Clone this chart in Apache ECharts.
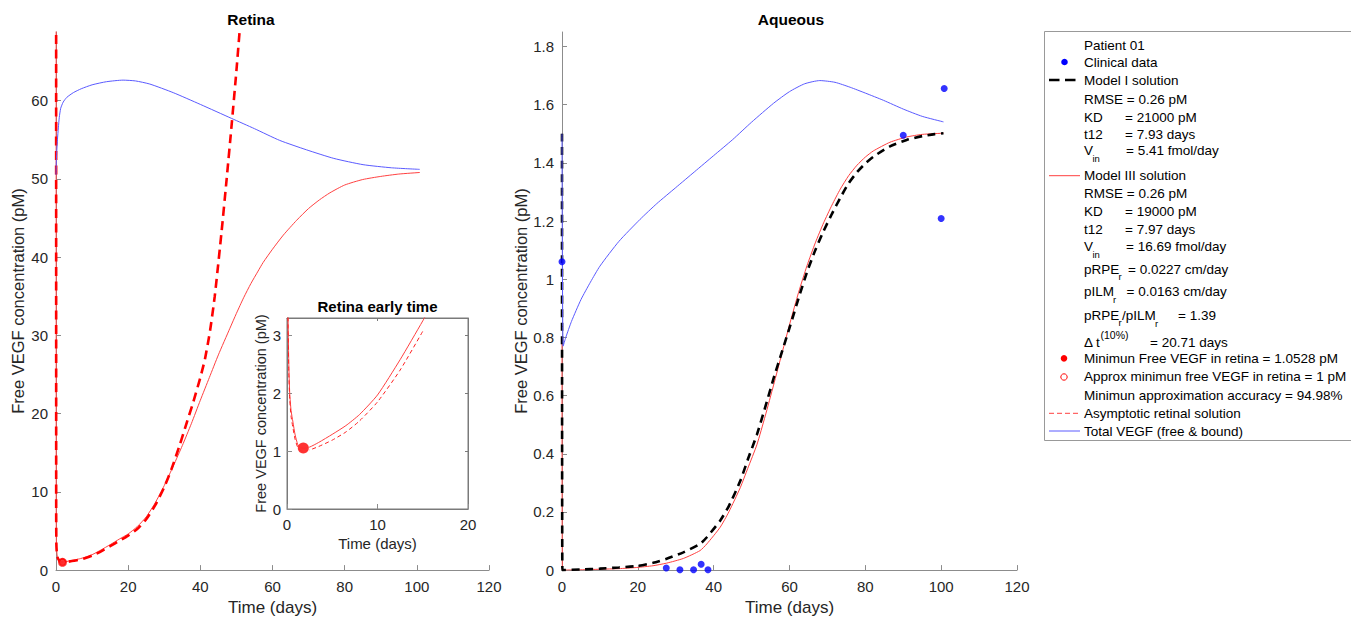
<!DOCTYPE html>
<html><head><meta charset="utf-8">
<script src="https://cdn.jsdelivr.net/npm/echarts@6/dist/echarts.min.js"></script>
<style>html,body{margin:0;padding:0;background:#fff}#c{width:1351px;height:621px}</style>
</head><body><div id="c"></div>
<script>
// ---------- DATA ----------
const xTicks = [0, 20, 40, 60, 80, 100, 120];
const insetXTicks = [0, 10, 20];
const retinaYTicks = [0, 10, 20, 30, 40, 50, 60];
const aqueousYTicks = [0, 0.2, 0.4, 0.6, 0.8, 1, 1.2, 1.4, 1.6, 1.8];
const insetYTicks = [0, 1, 2, 3];

// Retina: Model III free VEGF (thin red)
const retinaModel3T = [0, 0.05, 0.1, 0.2, 0.3, 0.45, 0.66, 0.9, 1.2, 1.5, 1.8, 2.5, 3.5, 5, 6.5, 8, 10, 12.5, 15, 17.5, 20, 22.5, 25, 27.5, 30, 32.5, 35, 37.5, 40, 42.5, 45, 48.2, 50, 52, 54, 56, 57.4, 60, 63, 66.7, 70, 73, 75.9, 80, 85, 90, 95, 100.8];
const retinaModel3 = [400, 8, 3.6, 2.5, 2.0, 1.7, 1.5, 1.28, 1.11, 1.06, 1.05, 1.07, 1.15, 1.29, 1.44, 1.63, 1.97, 2.58, 3.25, 3.95, 4.62, 5.55, 6.8, 8.6, 10.8, 13.3, 15.9, 18.7, 21.7, 24.6, 27.5, 30.9, 32.8, 34.8, 36.6, 38.2, 39.3, 41.0, 42.8, 44.7, 46.2, 47.3, 48.2, 49.2, 49.9, 50.3, 50.6, 50.8];
// Retina: asymptotic retinal solution (red dashed)
const retinaAsymT = [0, 0.05, 0.1, 0.2, 0.3, 0.45, 0.66, 0.9, 1.2, 1.5, 1.8, 2.5, 3.5, 5, 6.5, 8, 10, 12.5, 15, 17.5, 20, 22.5, 25, 27.5, 30, 32, 34.3, 36, 38, 40, 41.3, 42.7, 44, 45.9, 47.3, 48.7, 50, 51];
const retinaAsym = [400, 7.5, 3.4, 2.35, 1.9, 1.6, 1.4, 1.2, 1.06, 1.01, 1.0, 1.02, 1.08, 1.19, 1.33, 1.52, 1.85, 2.4, 3.07, 3.72, 4.4, 5.25, 6.5, 8.3, 10.6, 12.9, 16.0, 18.5, 21.4, 24.6, 27.0, 30.6, 35.0, 43.3, 50, 57, 63.8, 69.5];
// Retina: total VEGF (blue)
const retinaTotalT = [0, 0.1, 0.25, 0.4, 0.65, 0.9, 1.3, 2, 3, 4.8, 7, 10, 14, 18.6, 22, 26, 32.5, 40, 48.7, 55, 62, 69.4, 77, 85.1, 93, 100.8];
const retinaTotal = [50.5, 52.3, 53.8, 55, 56.5, 57.8, 59, 59.8, 60.4, 61, 61.5, 62, 62.4, 62.6, 62.5, 62.1, 61, 59.5, 57.7, 56.4, 54.9, 53.7, 52.6, 51.8, 51.4, 51.2];
const minFreeVEGF = [1.8, 1.0528];
const approxMinFreeVEGF = [1.8, 1.0];
const insetSolidEnd = 17.5, insetDashEnd = 15;

// Aqueous
const aqueousModel1T = [0, 0.1, 5, 10, 15, 19.7, 24, 27.6, 32, 36.4, 38.2, 41.7, 44, 47, 49, 51.4, 53.6, 55.8, 58, 60.2, 62.4, 64.6, 66.8, 69, 71.2, 73.4, 75.6, 77.8, 80, 82.1, 86.5, 90.9, 95, 98.3, 100.6];
const aqueousModel1 = [1.5, 0, 0.002, 0.005, 0.009, 0.014, 0.025, 0.039, 0.061, 0.09, 0.113, 0.17, 0.22, 0.306, 0.38, 0.466, 0.56, 0.659, 0.75, 0.841, 0.935, 1.024, 1.1, 1.166, 1.225, 1.28, 1.33, 1.368, 1.398, 1.421, 1.457, 1.479, 1.492, 1.499, 1.502];
const aqueousModel3T = [0, 0.1, 5, 10, 15, 19.7, 24, 27.6, 32, 36.4, 38.2, 41.7, 44, 47, 49, 51.4, 53.6, 55.8, 58, 60.2, 62.4, 64.6, 66.8, 69, 71.2, 73.4, 75.6, 77.8, 80, 82.1, 86.5, 90.9, 95, 100.6];
const aqueousModel3 = [0.78, 0, 0.001, 0.003, 0.005, 0.009, 0.015, 0.024, 0.04, 0.067, 0.09, 0.147, 0.2, 0.283, 0.35, 0.431, 0.53, 0.636, 0.745, 0.853, 0.955, 1.046, 1.125, 1.194, 1.255, 1.31, 1.356, 1.392, 1.42, 1.441, 1.471, 1.489, 1.498, 1.502];
const aqueousTotalT = [0, 0.3, 1, 2.5, 5, 7.5, 10, 15, 20.6, 25, 30, 35, 40, 45, 50, 55.8, 60, 64, 68, 72, 76, 80, 84.8, 90, 95, 100.6];
const aqueousTotal = [1.5, 0.77, 0.8, 0.855, 0.93, 0.99, 1.045, 1.13, 1.206, 1.26, 1.315, 1.37, 1.425, 1.48, 1.54, 1.605, 1.645, 1.672, 1.683, 1.677, 1.66, 1.64, 1.615, 1.585, 1.56, 1.541];
const clinicalT = [0, 27.5, 31.1, 34.7, 36.7, 38.5, 90, 100, 100.8];
const clinicalVEGF = [1.06, 0.007, 0.001, 0.001, 0.02, 0.001, 1.495, 1.209, 1.656];

// ---------- BUILD ----------
const zip = (t, v) => t.map((x, i) => [x, v[i]]);
const upTo = (t, v, end) => zip(t, v).filter(p => p[0] <= end);
const FONT = '"Liberation Sans", Arial, Helvetica, sans-serif';
const AX = '#8c8c8c', TXT = '#262626';
const RED = '#ff4040', BLUE = '#5a5aff';

function xAx(grid, min, max, interval, ticks, opts) {
  return Object.assign({
    type: 'value', gridIndex: grid, min, max, interval,
    axisLine: {show: true, onZero: false, lineStyle: {color: AX, width: 1}},
    axisTick: {show: true, inside: true, length: 5, lineStyle: {color: AX}, customValues: ticks},
    axisLabel: {color: TXT, fontSize: 15, fontFamily: FONT, margin: 9, customValues: ticks},
    splitLine: {show: false},
    nameLocation: 'middle', nameTextStyle: {color: TXT, fontSize: 17, fontFamily: FONT}
  }, opts || {});
}
function yAx(grid, min, max, ticks, opts) {
  return Object.assign({
    type: 'value', gridIndex: grid, min, max,
    axisLine: {show: true, onZero: false, lineStyle: {color: AX, width: 1}},
    axisTick: {show: true, inside: true, length: 5, lineStyle: {color: AX}, customValues: ticks},
    axisLabel: {color: TXT, fontSize: 15, fontFamily: FONT, margin: 8, customValues: ticks, showMaxLabel: true},
    splitLine: {show: false},
    nameLocation: 'middle', nameRotate: 90, nameTextStyle: {color: TXT, fontSize: 16.5, fontFamily: FONT}
  }, opts || {});
}

function txt(x, y, s, size, extra) {
  return Object.assign({type: 'text', x: x, y: y, silent: true, style: {
    text: s, fill: '#000', fontSize: size || 13.5, fontFamily: FONT,
    align: 'left', verticalAlign: 'middle', textAlign: 'left', textVerticalAlign: 'middle'}}, extra || {});
}
function ctxt(x, y, s, size) {
  return {type: 'text', x: x, y: y, silent: true, style: {
    text: s, fill: '#000', fontSize: size, fontWeight: 'bold', fontFamily: FONT,
    align: 'center', verticalAlign: 'middle', textAlign: 'center', textVerticalAlign: 'middle'}};
}
function hline(x1, x2, y, color, width, dash) {
  return {type: 'line', silent: true, shape: {x1, y1: y, x2, y2: y}, style: {stroke: color, lineWidth: width, lineDash: dash || null}};
}
const L = 1084, S = 9.5;
const graphics = [
  ctxt(251, 19, 'Retina', 15.5),
  ctxt(791, 19, 'Aqueous', 15.5),
  ctxt(377.5, 306, 'Retina early time', 15),
  {type: 'rect', silent: true, shape: {x: 1044.5, y: 31.5, width: 330, height: 409}, style: {fill: '#fff', stroke: '#999', lineWidth: 1}},
  txt(L, 45, 'Patient 01'),
  {type: 'circle', silent: true, shape: {cx: 1064.5, cy: 62, r: 3.3}, style: {fill: '#0000ff'}},
  txt(L, 62, 'Clinical data'),
  hline(1049, 1076, 80, '#000', 2.5, [10.5, 5.5]),
  txt(L, 80, 'Model I solution'),
  txt(L, 99, 'RMSE = 0.26 pM'),
  txt(L, 117.3, 'KD'), txt(1125, 117.3, '= 21000 pM'),
  txt(L, 134.3, 't12'), txt(1125, 134.3, '= 7.93 days'),
  txt(L, 150.5, 'V'), txt(1092.5, 158.3, 'in', S), txt(1126, 150.5, '= 5.41 fmol/day'),
  hline(1049, 1080, 175.7, RED, 1),
  txt(L, 175.7, 'Model III solution'),
  txt(L, 193.3, 'RMSE = 0.26 pM'),
  txt(L, 211, 'KD'), txt(1125, 211, '= 19000 pM'),
  txt(L, 229.3, 't12'), txt(1125, 229.3, '= 7.97 days'),
  txt(L, 246.7, 'V'), txt(1092.5, 254.5, 'in', S), txt(1126, 246.7, '= 16.69 fmol/day'),
  txt(L, 269.3, 'pRPE'), txt(1118.5, 276.5, 'r', S), txt(1128, 269.3, '= 0.0227 cm/day'),
  txt(L, 291.7, 'pILM'), txt(1113, 299, 'r', S), txt(1126.5, 291.7, '= 0.0163 cm/day'),
  txt(L, 315, 'pRPE'), txt(1118.5, 322.3, 'r', S), txt(1122, 315, '/pILM'), txt(1155, 323, 'r', S), txt(1178, 315, '= 1.39'),
  txt(L, 342, '\u0394 t'), txt(1100.5, 335, '(10%)', 10.5), txt(1150, 342, '= 20.71 days'),
  {type: 'circle', silent: true, shape: {cx: 1064, cy: 358.3, r: 3.3}, style: {fill: '#ff0000'}},
  txt(L, 358.3, 'Minimun Free VEGF in retina = 1.0528 pM'),
  {type: 'circle', silent: true, shape: {cx: 1064, cy: 377, r: 3.2}, style: {fill: 'none', stroke: '#ff0000', lineWidth: 1}},
  txt(L, 376.7, 'Approx minimun free VEGF in retina = 1 pM'),
  txt(L, 395.7, 'Minimun approximation accuracy = 94.98%'),
  hline(1049, 1080, 413.3, RED, 1, [5, 3]),
  txt(L, 413.3, 'Asymptotic retinal solution'),
  hline(1049, 1080, 431, BLUE, 1),
  txt(L, 431, 'Total VEGF (free & bound)')
];

const lineBase = {type: 'line', showSymbol: false, symbol: 'none', smooth: 0.2, silent: true, animation: false, clip: true};
const mk = (o) => Object.assign({}, lineBase, o);

const option = {
  animation: false,
  backgroundColor: '#fff',
  grid: [
    {left: 56, top: 32, width: 433, height: 541},
    {left: 562, top: 32, width: 455, height: 541},
    {left: 287, top: 318, width: 181, height: 191, show: true, backgroundColor: '#fff', borderColor: '#7a7a7a', borderWidth: 1, z: 5}
  ],
  xAxis: [
    xAx(0, 0, 120, 20, xTicks, {name: 'Time (days)', nameGap: 27}),
    xAx(1, 0, 120, 20, xTicks, {name: 'Time (days)', nameGap: 27}),
    xAx(2, 0, 20, 10, insetXTicks, {name: 'Time (days)', nameGap: 27, z: 6,
      axisLine: {show: true, onZero: false, lineStyle: {color: '#7a7a7a'}},
      axisLabel: {color: TXT, fontSize: 15, fontFamily: FONT, margin: 8, customValues: insetXTicks},
      nameTextStyle: {color: TXT, fontSize: 15, fontFamily: FONT}}),
    xAx(2, 0, 20, 10, insetXTicks, {position: 'top', z: 6, axisLabel: {show: false},
      axisLine: {show: true, onZero: false, lineStyle: {color: '#7a7a7a'}},
      axisTick: {show: true, inside: true, length: 3, lineStyle: {color: '#7a7a7a'}, customValues: [10]}})
  ],
  yAxis: [
    yAx(0, 0, 68.75, retinaYTicks, {name: 'Free VEGF concentration (pM)', nameGap: 30}),
    yAx(1, 0, 1.85, aqueousYTicks, {name: 'Free VEGF concentration (pM)', nameGap: 32}),
    yAx(2, 0, 3.3, insetYTicks, {name: 'Free VEGF concentration (pM)', nameGap: 17, z: 6,
      axisLine: {show: true, onZero: false, lineStyle: {color: '#7a7a7a'}},
      axisLabel: {color: TXT, fontSize: 15, fontFamily: FONT, margin: 6, customValues: insetYTicks},
      nameTextStyle: {color: TXT, fontSize: 14.5, fontFamily: FONT}}),
    yAx(2, 0, 3.3, insetYTicks, {position: 'right', z: 6, axisLabel: {show: false},
      axisLine: {show: true, onZero: false, lineStyle: {color: '#7a7a7a'}},
      axisTick: {show: true, inside: true, length: 3, lineStyle: {color: '#7a7a7a'}, customValues: [1, 2, 3]}})
  ],
  series: [
    // Retina
    mk({xAxisIndex: 0, yAxisIndex: 0, data: zip(retinaModel3T, retinaModel3), lineStyle: {color: RED, width: 1}, z: 2}),
    mk({xAxisIndex: 0, yAxisIndex: 0, data: zip(retinaAsymT, retinaAsym), lineStyle: {color: '#ff0000', width: 2.6, type: [9, 5.5]}, z: 3}),
    mk({xAxisIndex: 0, yAxisIndex: 0, data: zip(retinaTotalT, retinaTotal), lineStyle: {color: BLUE, width: 1}, z: 3}),
    {type: 'scatter', xAxisIndex: 0, yAxisIndex: 0, data: [approxMinFreeVEGF], symbol: 'emptyCircle', symbolSize: 7, itemStyle: {color: '#ff0000', borderColor: '#ff0000'}, silent: true, z: 4},
    {type: 'scatter', xAxisIndex: 0, yAxisIndex: 0, data: [minFreeVEGF], symbol: 'circle', symbolSize: 7, itemStyle: {color: '#ff0000'}, silent: true, z: 4},
    // Inset
    mk({xAxisIndex: 2, yAxisIndex: 2, data: upTo(retinaModel3T, retinaModel3, insetSolidEnd), lineStyle: {color: RED, width: 1}, z: 10}),
    mk({xAxisIndex: 2, yAxisIndex: 2, data: upTo(retinaAsymT, retinaAsym, insetDashEnd), lineStyle: {color: '#ff2020', width: 1, type: [4, 3]}, z: 10}),
    {type: 'scatter', xAxisIndex: 2, yAxisIndex: 2, data: [approxMinFreeVEGF], symbol: 'emptyCircle', symbolSize: 11, itemStyle: {color: '#fff', borderColor: '#ff0000', borderWidth: 1}, silent: true, z: 11},
    {type: 'scatter', xAxisIndex: 2, yAxisIndex: 2, data: [minFreeVEGF], symbol: 'circle', symbolSize: 11, itemStyle: {color: '#ff0000'}, silent: true, z: 12},
    // Aqueous
    mk({xAxisIndex: 1, yAxisIndex: 1, data: zip(aqueousModel3T, aqueousModel3), lineStyle: {color: RED, width: 1}, z: 2}),
    mk({xAxisIndex: 1, yAxisIndex: 1, data: zip(aqueousModel1T, aqueousModel1), lineStyle: {color: '#000', width: 2.6, type: [8, 5.5]}, z: 3}),
    mk({xAxisIndex: 1, yAxisIndex: 1, data: zip(aqueousTotalT, aqueousTotal), lineStyle: {color: BLUE, width: 1}, z: 4}),
    {type: 'scatter', xAxisIndex: 1, yAxisIndex: 1, data: zip(clinicalT, clinicalVEGF), symbol: 'circle', symbolSize: 7, itemStyle: {color: '#0000ff'}, silent: true, z: 5, clip: false}
  ],
  graphic: {elements: graphics}
};
const chart = echarts.init(document.getElementById('c'), null, {renderer: 'svg', width: 1351, height: 621});
chart.setOption(option);
</script></body></html>
